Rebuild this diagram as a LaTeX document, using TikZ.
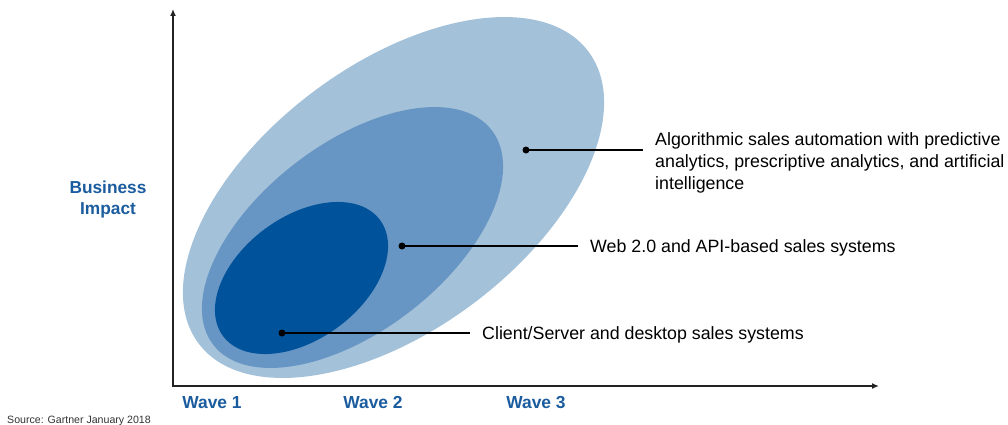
\documentclass[tikz,border=0pt]{standalone}
\usepackage{fontspec}
\setmainfont{Liberation Sans}
\usetikzlibrary{arrows.meta}
\definecolor{outerc}{HTML}{A4C1DA}
\definecolor{midc}{HTML}{6896C4}
\definecolor{innerc}{HTML}{00529B}
\definecolor{lblue}{HTML}{1B5C9E}
\definecolor{axisc}{HTML}{222222}
\definecolor{srcc}{HTML}{333333}
\tikzset{
  axisline/.style={draw=axisc, line width=1.4pt, -{Latex[length=7pt,width=6pt]}},
  leader/.style={draw=black, line width=1.2pt},
  dotmark/.style={circle, fill=black, inner sep=0pt, minimum size=7pt},
  desc/.style={font=\fontsize{17.8}{22}\selectfont, text=black, inner xsep=12pt, inner ysep=0pt},
  wavelbl/.style={font=\fontsize{17.4}{21}\selectfont\bfseries, text=lblue, inner sep=0pt, anchor=base},
}
\begin{document}
\begin{tikzpicture}[x=1pt,y=-1pt]
\useasboundingbox (0,0) rectangle (1008,425);
% waves (tilted ellipses)
\fill[outerc, shift={(393.5,197.5)}, rotate=36.8] (0,0) ellipse [x radius=243.5pt, y radius=132.7pt];
\fill[midc, shift={(352.5,237.5)}, rotate=37.6] (0,0) ellipse [x radius=175.8pt, y radius=93.7pt];
\fill[innerc, shift={(301.5,278)}, rotate=36.4] (0,0) ellipse [x radius=97.6pt, y radius=61.2pt];
% axes
\coordinate (ytip) at (173,9);
\coordinate (xtip) at (879,386);
\draw[axisline] (173,387) -- (ytip);
\draw[axisline] (172,386) -- (xtip);
% dots and labels
\node[dotmark] (d3) at (526,150) {};
\node[dotmark] (d2) at (402,246) {};
\node[dotmark] (d1) at (282,333) {};
\node[desc, anchor=base west, align=left] (t3) at (643,189)
  {Algorithmic sales automation with predictive\\analytics, prescriptive analytics, and artificial\\intelligence};
\node[desc, anchor=base west] (t2) at (578,252) {Web 2.0 and API-based sales systems};
\node[desc, anchor=base west] (t1) at (470,339) {Client/Server and desktop sales systems};
\draw[leader] (d3.center) -- (d3 -| t3.west);
\draw[leader] (d2.center) -- (d2 -| t2.west);
\draw[leader] (d1.center) -- (d1 -| t1.west);
% axis labels
\node[font=\fontsize{17.3}{21}\selectfont\bfseries, text=lblue, align=center, anchor=base, inner sep=0pt] (bi) at (108,214) {Business\\Impact};
\node[wavelbl] (w1) at (212,408) {Wave 1};
\node[wavelbl] (w2) at (373,408) {Wave 2};
\node[wavelbl] (w3) at (536,408) {Wave 3};
\node[font=\fontsize{10.6}{12}\selectfont, text=srcc, anchor=base west, inner sep=0pt] (src) at (7,423) {Source: Gartner January 2018};
\end{tikzpicture}
\end{document}
